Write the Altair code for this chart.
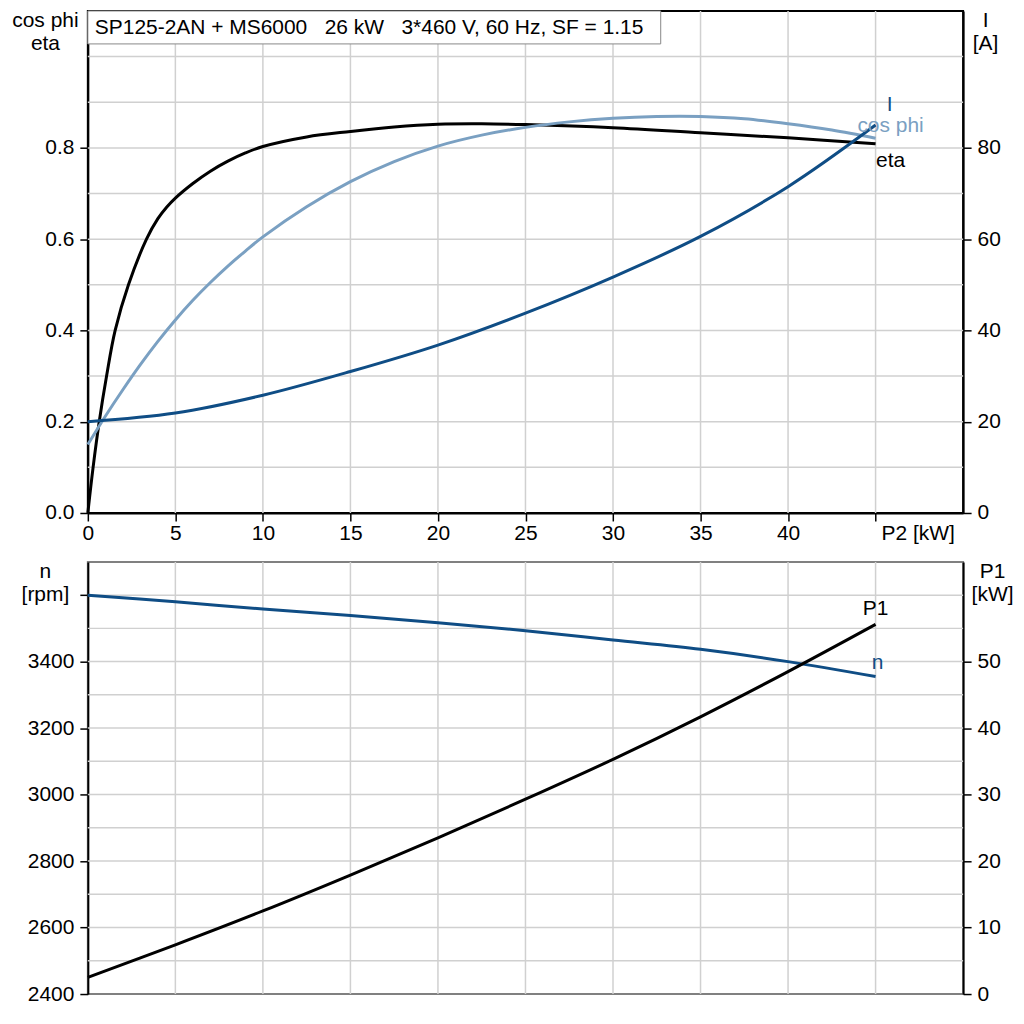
import altair as alt
import pandas as pd

FONT = "Liberation Sans"
FS = 21
DARK = "#0f4d85"
LIGHT = "#7aa0c2"
GRID = "#d0d0d0"

# ---------------- data ----------------
p2_eta = [0, 0.3, 0.65, 1.07, 1.56, 2.32, 3.35, 4, 4.5, 5, 6, 7, 8, 9, 10, 12.5, 15,
          17.5, 20, 22.5, 25, 30, 35, 40, 45]
eta = [0, 0.10, 0.20, 0.30, 0.40, 0.50, 0.60, 0.645, 0.670, 0.690, 0.722, 0.749,
       0.771, 0.789, 0.803, 0.824, 0.836, 0.846, 0.852, 0.853, 0.851, 0.844, 0.833,
       0.822, 0.809]

p2_cos = [0, 1, 2, 3, 4, 5, 6, 7, 8, 9, 10, 12.5, 15, 17.5, 20, 22.5, 25, 27.5,
          30, 32.5, 35, 37.5, 40, 42.5, 45]
cos_phi = [0.150, 0.212, 0.270, 0.325, 0.376, 0.423, 0.466, 0.505, 0.541, 0.574,
           0.605, 0.671, 0.726, 0.770, 0.804, 0.828, 0.845, 0.857, 0.865, 0.869,
           0.869, 0.864, 0.853, 0.839, 0.821]

p2_i = [0, 5, 10, 15, 20, 25, 30, 35, 40, 45]
current = [20.0, 21.9, 25.8, 31.0, 36.8, 43.8, 51.7, 60.6, 71.5, 85.0]

p2_bot = [0, 5, 10, 15, 20, 25, 30, 35, 40, 45]
speed = [3600, 3580, 3558, 3539, 3517, 3493, 3465, 3437, 3400, 3355]
p1 = [2.5, 7.4, 12.5, 17.9, 23.5, 29.3, 35.3, 41.7, 48.5, 55.6]

x_ticks = [0, 5, 10, 15, 20, 25, 30, 35, 40, 45]
x_grid = [5, 10, 15, 20, 25, 30, 35, 40, 45]
x_unit_label = "P2 [kW]"
top_left_ticks = [0.0, 0.2, 0.4, 0.6, 0.8]
top_left_grid = [0.1, 0.2, 0.3, 0.4, 0.5, 0.6, 0.7, 0.8, 0.9, 1.0]
top_right_ticks = [0, 20, 40, 60, 80]
bot_left_ticks = [2400, 2600, 2800, 3000, 3200, 3400, 3600]
bot_left_grid = [2500, 2600, 2700, 2800, 2900, 3000, 3100, 3200, 3300, 3400, 3500, 3600]
bot_right_ticks = [0, 10, 20, 30, 40, 50]

title_text = "SP125-2AN + MS6000\u00a0\u00a0\u00a026 kW\u00a0\u00a0\u00a03*460 V, 60 Hz, SF = 1.15"

# ---------------- scales ----------------
xscale = alt.Scale(domain=[0, 50], nice=False, zero=False)
s_top_l = alt.Scale(domain=[0, 1.1], nice=False)
s_top_r = alt.Scale(domain=[0, 110], nice=False)
s_bot_l = alt.Scale(domain=[2400, 3700], nice=False, zero=False)
s_bot_r = alt.Scale(domain=[0, 65], nice=False)

W = 877
H_TOP = 503
H_BOT = 433
INTERP = "catmull-rom"

x_axis_top = alt.Axis(
    values=x_ticks, title=None, labelFlush=False, labelOverlap=False, labelPadding=2,
    labelExpr="datum.value == 45 ? '' : datum.label",
)


def xtop():
    return alt.X("p2:Q", scale=xscale, axis=x_axis_top)


def xbot():
    return alt.X("p2:Q", scale=xscale, axis=None)


def label(txt, xv, yv, yscale, xenc, color, dx, dy):
    df = pd.DataFrame({"p2": [xv], "v": [yv], "t": [txt]})
    return alt.Chart(df).mark_text(color=color, dx=dx, dy=dy, font=FONT,
                                   fontSize=FS).encode(
        x=xenc(), y=alt.Y("v:Q", scale=yscale, axis=None), text="t:N")


def yaxis(orient, values, title, tx, fmt=None, expr=None):
    kw = dict(orient=orient, values=values, title=title, titleAngle=0,
              titleAlign="center", titleBaseline="top", titleX=tx, titleY=-1,
              titleLineHeight=23, labelPadding=6, tickSize=8)
    if fmt:
        kw["format"] = fmt
    if expr:
        kw["labelExpr"] = expr
    return alt.Axis(**kw)


# ---------------- top panel ----------------
grid_v_top = alt.Chart(pd.DataFrame({"p2": x_grid})).mark_rule(
    color=GRID, strokeWidth=1.5).encode(x=xtop())
grid_h_top = alt.Chart(pd.DataFrame({"v": top_left_grid})).mark_rule(
    color=GRID, strokeWidth=1.5).encode(y=alt.Y("v:Q", scale=s_top_l, axis=None))

df_left = pd.concat([
    pd.DataFrame({"p2": p2_eta, "v": eta, "s": "eta"}),
    pd.DataFrame({"p2": p2_cos, "v": cos_phi, "s": "cos phi"}),
])

lines_left = alt.Chart(df_left).mark_line(strokeWidth=3, interpolate=INTERP).encode(
    x=xtop(),
    y=alt.Y("v:Q", scale=s_top_l,
            axis=yaxis("left", top_left_ticks, ["cos phi", "eta"], -43, ".1f")),
    color=alt.Color("s:N", scale=alt.Scale(domain=["eta", "cos phi"],
                                           range=["black", LIGHT]), legend=None),
)

unit_txt = alt.Chart(pd.DataFrame({"p2": [45], "t": [x_unit_label]})).mark_text(
    align="left", baseline="top", dx=6, font=FONT, fontSize=FS, color="black").encode(
    x=xtop(), y=alt.value(H_TOP + 10), text="t:N")

title_box = alt.Chart(pd.DataFrame({"a": [0]})).mark_rect(
    fill="white", stroke="#888888", strokeWidth=1).encode(
    x=alt.value(0), x2=alt.value(574), y=alt.value(0), y2=alt.value(33))
title_txt = alt.Chart(pd.DataFrame({"t": [title_text]})).mark_text(
    align="left", baseline="middle", font=FONT, fontSize=FS, color="black").encode(
    x=alt.value(7), y=alt.value(17), text="t:N")

df_i = pd.DataFrame({"p2": p2_i, "v": current})
line_i = alt.Chart(df_i).mark_line(strokeWidth=3, interpolate=INTERP, color=DARK).encode(
    x=xtop(),
    y=alt.Y("v:Q", scale=s_top_r, axis=yaxis("right", top_right_ticks, ["I", "[A]"], 22)),
)

top = alt.layer(
    grid_v_top, grid_h_top, title_box, title_txt, unit_txt, lines_left, line_i,
    label("cos phi", p2_cos[-1], cos_phi[-1], s_top_l, xtop, LIGHT, 15, -12),
    label("eta", p2_eta[-1], eta[-1], s_top_l, xtop, "black", 15, 17),
    label("I", p2_i[-1], current[-1], s_top_r, xtop, DARK, 14, -20),
).resolve_scale(y="independent").properties(
    width=W, height=H_TOP, view=alt.ViewBackground(stroke="black", strokeWidth=2))

# ---------------- bottom panel ----------------
grid_v_bot = alt.Chart(pd.DataFrame({"p2": x_grid})).mark_rule(
    color=GRID, strokeWidth=1.5).encode(x=xbot())
grid_h_bot = alt.Chart(pd.DataFrame({"v": bot_left_grid})).mark_rule(
    color=GRID, strokeWidth=1.5).encode(y=alt.Y("v:Q", scale=s_bot_l, axis=None))

df_n = pd.DataFrame({"p2": p2_bot, "v": speed})
line_n = alt.Chart(df_n).mark_line(strokeWidth=3, interpolate=INTERP, color=DARK).encode(
    x=xbot(),
    y=alt.Y("v:Q", scale=s_bot_l,
            axis=yaxis("left", bot_left_ticks, ["n", "[rpm]"], -43, "d",
                       "datum.value == 3600 ? '' : datum.label")),
)

df_p1 = pd.DataFrame({"p2": p2_bot, "v": p1})
line_p1 = alt.Chart(df_p1).mark_line(strokeWidth=3, interpolate=INTERP, color="black").encode(
    x=xbot(),
    y=alt.Y("v:Q", scale=s_bot_r,
            axis=yaxis("right", bot_right_ticks, ["P1", "[kW]"], 29)),
)

bottom = alt.layer(
    grid_v_bot, grid_h_bot, line_n, line_p1,
    label("n", p2_bot[-1], speed[-1], s_bot_l, xbot, DARK, 2, -14),
    label("P1", p2_bot[-1], p1[-1], s_bot_r, xbot, "black", 0, -15),
).resolve_scale(y="independent").properties(
    width=W, height=H_BOT, view=alt.ViewBackground(stroke="#808080", strokeWidth=2))

chart = alt.vconcat(top, bottom, spacing=15).resolve_scale(
    x="independent", y="independent"
).properties(
    padding={"left": 2, "right": 2, "top": 0, "bottom": 0}
).configure_axis(
    labelFont=FONT, labelFontSize=FS, titleFont=FONT, titleFontSize=FS,
    titleFontWeight="normal", labelColor="black", titleColor="black",
    domainColor="black", domainWidth=2, tickColor="black", tickWidth=1.5,
    tickSize=8, grid=False,
).configure_text(font=FONT).configure_view(stroke=None)

chart.save("out.html", embed_options={"renderer": "svg", "actions": False})
